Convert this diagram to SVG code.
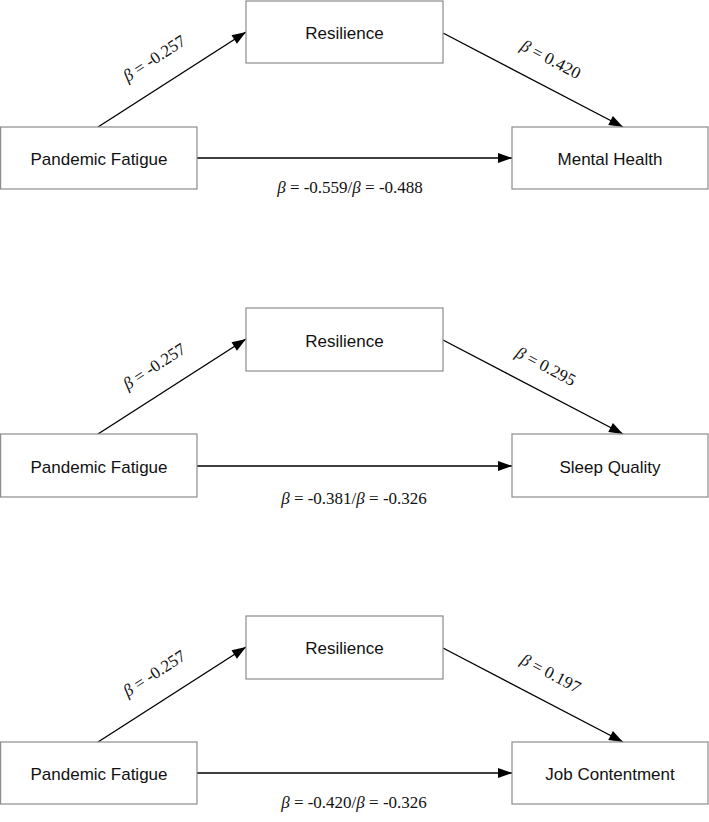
<svg xmlns="http://www.w3.org/2000/svg" width="709" height="822" viewBox="0 0 709 822">
<style>
.box{fill:#fff;stroke:#8c8c8c;stroke-width:1.2}
.lbl{font-family:"Liberation Sans",Arial,sans-serif;font-size:17px;fill:#111;text-anchor:middle}
.b{font-family:"Liberation Serif","Times New Roman",serif;font-size:17px;fill:#111;text-anchor:middle}
.edge{stroke:#000;stroke-width:1.4;fill:none;marker-end:url(#ah)}
</style>
<defs>
<marker id="ah" viewBox="0 0 10 10" refX="10" refY="5" markerWidth="10" markerHeight="10" markerUnits="userSpaceOnUse" orient="auto" overflow="visible">
<path d="M0,0 L14,5 L0,10 z" transform="translate(-4,0)" fill="#000"/>
</marker>
</defs>
<rect width="709" height="822" fill="#fff"/>

<g id="connectors">
<line class="edge" x1="98" y1="127" x2="246" y2="32"/>
<line class="edge" x1="443" y1="33" x2="623" y2="127"/>
<line class="edge" x1="197" y1="158" x2="512" y2="158"/>
<line class="edge" x1="98" y1="434" x2="246" y2="339"/>
<line class="edge" x1="443" y1="340" x2="623" y2="434"/>
<line class="edge" x1="197" y1="466" x2="512" y2="466"/>
<line class="edge" x1="98" y1="742" x2="246" y2="647"/>
<line class="edge" x1="443" y1="648" x2="623" y2="742"/>
<line class="edge" x1="197" y1="773" x2="512" y2="773"/>
</g>

<g id="edge-labels">
<text class="b" x="154" y="64" transform="rotate(-33 154 58)"><tspan font-style="italic">β</tspan> = -0.257</text>
<text class="b" x="551" y="65" transform="rotate(27.6 551 59)"><tspan font-style="italic">β</tspan> = 0.420</text>
<text class="b" x="350" y="193"><tspan font-style="italic">β</tspan> = -0.559/<tspan font-style="italic">β</tspan> = -0.488</text>

<text class="b" x="154" y="372" transform="rotate(-33 154 366)"><tspan font-style="italic">β</tspan> = -0.257</text>
<text class="b" x="546" y="372" transform="rotate(27.6 546 366)"><tspan font-style="italic">β</tspan> = 0.295</text>
<text class="b" x="354" y="504"><tspan font-style="italic">β</tspan> = -0.381/<tspan font-style="italic">β</tspan> = -0.326</text>

<text class="b" x="154" y="679" transform="rotate(-33 154 673)"><tspan font-style="italic">β</tspan> = -0.257</text>
<text class="b" x="551" y="679" transform="rotate(27.6 551 673)"><tspan font-style="italic">β</tspan> = 0.197</text>
<text class="b" x="354" y="808"><tspan font-style="italic">β</tspan> = -0.420/<tspan font-style="italic">β</tspan> = -0.326</text>
</g>

<g id="p1-fatigue"><rect class="box" x="0.6" y="127" width="196.4" height="62"/><text class="lbl" x="99" y="165">Pandemic Fatigue</text></g>
<g id="p1-resilience"><rect class="box" x="246" y="1" width="197" height="62"/><text class="lbl" x="344.5" y="39">Resilience</text></g>
<g id="p1-mental-health"><rect class="box" x="512" y="127" width="196" height="62"/><text class="lbl" x="610" y="165">Mental Health</text></g>

<g id="p2-fatigue"><rect class="box" x="0.6" y="434" width="196.4" height="63"/><text class="lbl" x="99" y="473">Pandemic Fatigue</text></g>
<g id="p2-resilience"><rect class="box" x="246" y="308" width="197" height="63"/><text class="lbl" x="344.5" y="347">Resilience</text></g>
<g id="p2-sleep-quality"><rect class="box" x="512" y="434" width="196" height="63"/><text class="lbl" x="610" y="473">Sleep Quality</text></g>

<g id="p3-fatigue"><rect class="box" x="0.6" y="742" width="196.4" height="62"/><text class="lbl" x="99" y="780">Pandemic Fatigue</text></g>
<g id="p3-resilience"><rect class="box" x="246" y="616" width="197" height="63"/><text class="lbl" x="344.5" y="654">Resilience</text></g>
<g id="p3-job-contentment"><rect class="box" x="512" y="742" width="196" height="62"/><text class="lbl" x="610" y="780">Job Contentment</text></g>
</svg>
